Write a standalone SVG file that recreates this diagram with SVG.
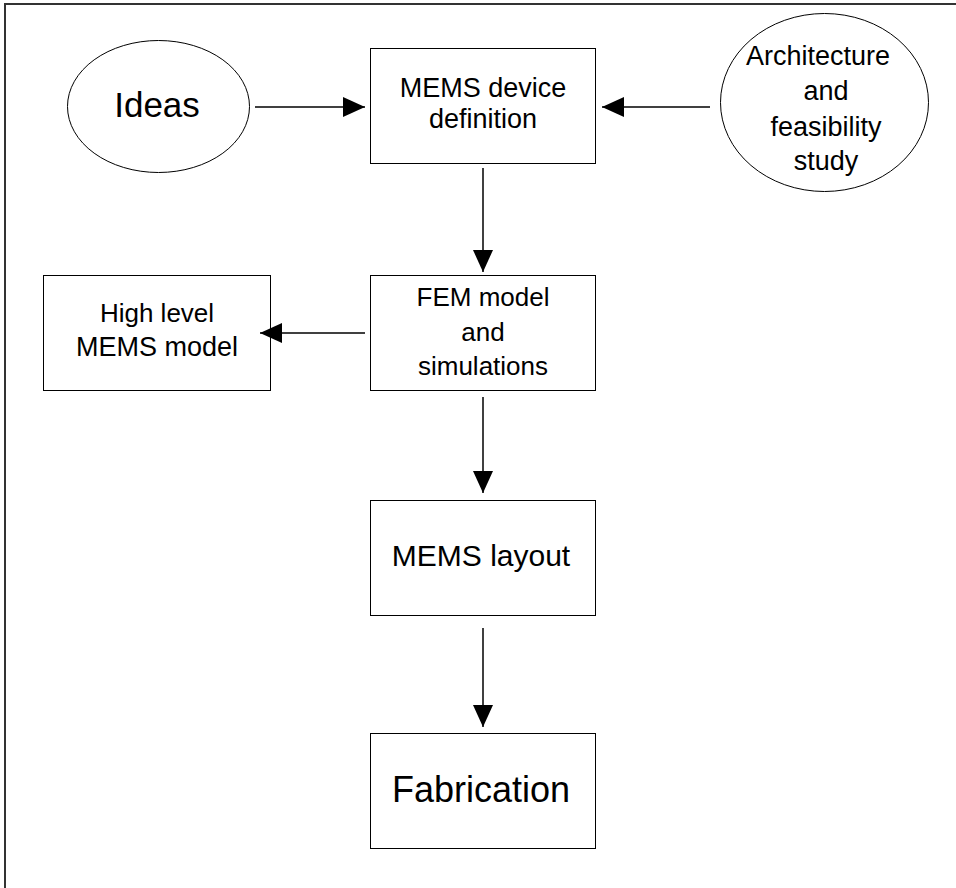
<svg xmlns="http://www.w3.org/2000/svg" width="956" height="888" viewBox="0 0 956 888">
<style>
.box{fill:#fff;stroke:#000;stroke-width:1}
.t{font-family:"Liberation Sans",Arial,sans-serif;fill:#000;text-anchor:middle}
.c{stroke:#000;stroke-width:1.5;fill:none}
</style>
<defs>
<marker id="ah" viewBox="0 0 22 20" refX="22" refY="10" markerWidth="22" markerHeight="20" markerUnits="userSpaceOnUse" orient="auto">
<path d="M0,0 L22,10 L0,20 Z" fill="#000"/>
</marker>
</defs>
<rect width="956" height="888" fill="#fff"/>
<path d="M5,888 V4 H956" fill="none" stroke="#333" stroke-width="2"/>
<g id="ideas">
<ellipse class="box" cx="158.5" cy="106.5" rx="91" ry="66"/>
<text class="t" x="157" y="117" font-size="35">Ideas</text>
</g>
<g id="mems-def">
<rect class="box" x="370.5" y="48.5" width="225" height="115"/>
<text class="t" x="483" y="97" font-size="27">MEMS device</text>
<text class="t" x="483" y="128" font-size="27">definition</text>
</g>
<g id="arch">
<ellipse class="box" cx="824.5" cy="102.5" rx="104" ry="89"/>
<text class="t" x="818" y="65" font-size="27">Architecture</text>
<text class="t" x="826" y="100" font-size="27">and</text>
<text class="t" x="826" y="136" font-size="27">feasibility</text>
<text class="t" x="826" y="170" font-size="27">study</text>
</g>
<g id="fem">
<rect class="box" x="370.5" y="275.5" width="225" height="115"/>
<text class="t" x="483" y="306" font-size="26">FEM model</text>
<text class="t" x="483" y="341" font-size="26">and</text>
<text class="t" x="483" y="375" font-size="26">simulations</text>
</g>
<g id="highlevel">
<rect class="box" x="43.5" y="275.5" width="227" height="115"/>
<text class="t" x="157" y="322" font-size="26">High level</text>
<text class="t" x="157" y="356" font-size="27">MEMS model</text>
</g>
<g id="layout">
<rect class="box" x="370.5" y="500.5" width="225" height="115"/>
<text class="t" x="481" y="566" font-size="30">MEMS layout</text>
</g>
<g id="fab">
<rect class="box" x="370.5" y="733.5" width="225" height="115"/>
<text class="t" x="481" y="802" font-size="36">Fabrication</text>
</g>
<g id="connectors">
<line class="c" x1="255" y1="107" x2="365" y2="107" marker-end="url(#ah)"/>
<line class="c" x1="710" y1="107" x2="602" y2="107" marker-end="url(#ah)"/>
<line class="c" x1="483" y1="168" x2="483" y2="272" marker-end="url(#ah)"/>
<line class="c" x1="365" y1="333" x2="260" y2="333" marker-end="url(#ah)"/>
<line class="c" x1="483" y1="397" x2="483" y2="493" marker-end="url(#ah)"/>
<line class="c" x1="483" y1="628" x2="483" y2="727" marker-end="url(#ah)"/>
</g>
</svg>
